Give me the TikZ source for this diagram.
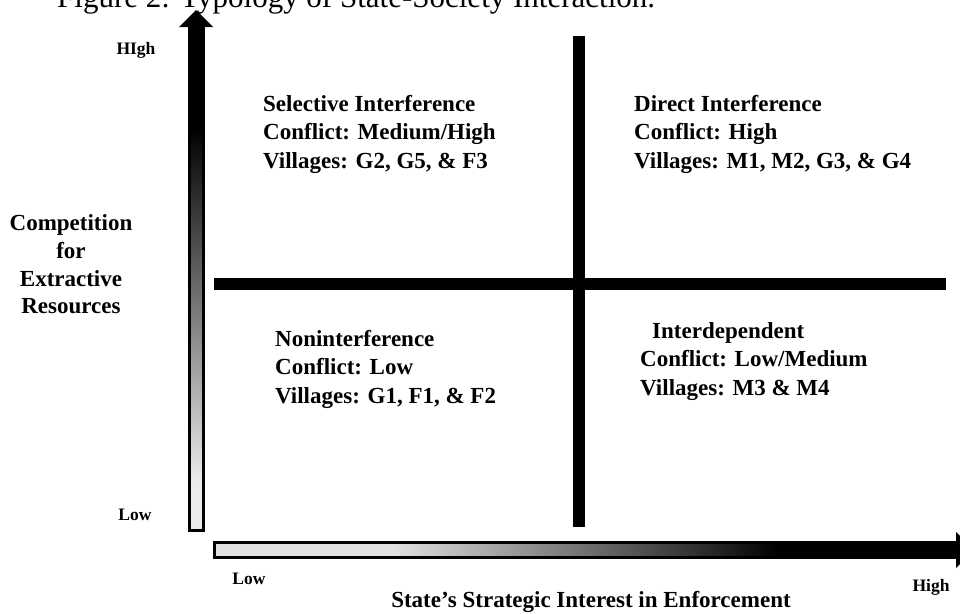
\documentclass[tikz,border=0pt]{standalone}
\usepackage{fontspec}
\setmainfont{Liberation Serif}
\usepackage{xcolor}

% fills of the two axis shafts
\pgfdeclarehorizontalshading{xaxisfill}{100bp}{color(0bp)=(black!12); color(37bp)=(black!12); color(63bp)=(black); color(100bp)=(black)}
\pgfdeclareverticalshading{yaxisfill}{100bp}{color(0bp)=(black!8); color(30bp)=(black!8); color(65bp)=(black); color(100bp)=(black)}

\begin{document}
\begin{tikzpicture}[x=1pt,y=-1pt,
    quad/.style={font=\fontsize{23}{28.5}\selectfont\bfseries, inner sep=0pt, align=left, anchor=north west},
    axislabel/.style={font=\fontsize{23}{27.7}\selectfont\bfseries, inner sep=0pt, align=center},
    endlabel/.style={font=\fontsize{17.5}{20}\selectfont\bfseries, inner sep=0pt},
    bar/.style={line width=12pt, line cap=butt}]
    \useasboundingbox (0,0) rectangle (960,613);
    % Title (cut at the top)
    \node[inner sep=0pt, anchor=base west, font=\fontsize{31}{34}\selectfont] (title) at (57,7.5) {Figure 2: Typology of State-Society Interaction.};
    % Vertical axis
    \shade[shading=yaxisfill, draw=black, line width=3pt] (189,27) rectangle (203,530.5);
    \fill (179,27) -- (196,10) -- (213,27) -- cycle;
    % Horizontal axis
    \shade[shading=xaxisfill, draw=black, line width=3pt] (214.5,542.5) rectangle (956,557.5);
    \fill (956,532) -- (974,550) -- (956,568) -- cycle;
    % Cross
    \coordinate (crosstop) at (579,36);
    \coordinate (crossbottom) at (579,527);
    \coordinate (crossleft) at (214,284);
    \coordinate (crossright) at (946,284);
    \draw[bar] (crosstop) -- (crossbottom);
    \draw[bar] (crossleft) -- (crossright);
    % Axis labels
    \node[endlabel] (yhigh) at (136,50) {HIgh};
    \node[endlabel] (ylow) at (135,515) {Low};
    \node[endlabel] (xlow) at (249,579) {Low};
    \node[endlabel] (xhigh) at (931,587) {High};
    \node[axislabel] (ytitle) at (71,264.5) {Competition\\for\\Extractive\\Resources};
    \node[axislabel, anchor=base] (xtitle) at (591,607) {State’s Strategic Interest in Enforcement};
    % Quadrants
    \node[quad] (selective) at (263,95) {Selective Interference\\Conflict: Medium/High\\Villages: G2, G5, \& F3};
    \node[quad] (direct) at (634,95) {Direct Interference\\Conflict: High\\Villages: M1, M2, G3, \& G4};
    \node[quad] (nonint) at (275,330) {Noninterference\\Conflict: Low\\Villages: G1, F1, \& F2};
    \node[quad] (interdep) at (640,322) {\hspace*{12pt}Interdependent\\Conflict: Low/Medium\\Villages: M3 \& M4};
\end{tikzpicture}
\end{document}
